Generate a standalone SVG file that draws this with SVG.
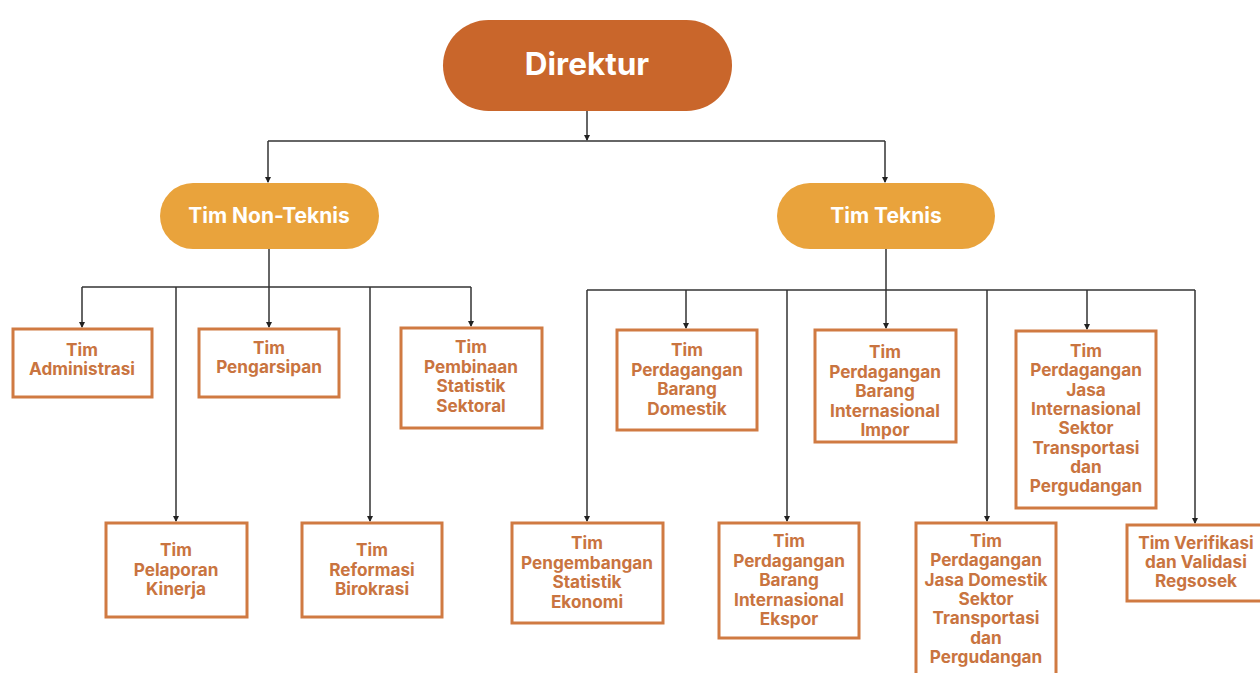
<svg xmlns="http://www.w3.org/2000/svg" width="1260" height="673" viewBox="0 0 1260 673">
<defs>
<marker id="ah" viewBox="0 0 6 6" refX="5" refY="3" markerWidth="4" markerHeight="4" orient="auto">
<path d="M0,0 L6,3 L0,6 z" fill="#222"/>
</marker>
<style>
.ln{fill:none;stroke:#333;stroke-width:1.5}
.box{fill:#fff;stroke:#d07a42;stroke-width:3}
.bt{font-family:Inter,"Liberation Sans",sans-serif;font-weight:700;font-size:17.2px;fill:#c97440;text-anchor:middle}
.pt{font-family:Inter,"Liberation Sans",sans-serif;font-weight:700;fill:#fff;text-anchor:middle}
</style>
</defs>
<rect width="1260" height="673" fill="#fff"/>
<g id="connectors">
<path class="ln" d="M587,111 V140" marker-end="url(#ah)"/>
<path class="ln" d="M268,141 H885"/>
<path class="ln" d="M268,141 V182" marker-end="url(#ah)"/>
<path class="ln" d="M885,141 V182" marker-end="url(#ah)"/>
<path class="ln" d="M269,249 V287"/>
<path class="ln" d="M82,287 H471"/>
<path class="ln" d="M82,287 V327" marker-end="url(#ah)"/>
<path class="ln" d="M176,287 V521" marker-end="url(#ah)"/>
<path class="ln" d="M269,287 V327" marker-end="url(#ah)"/>
<path class="ln" d="M370,287 V521" marker-end="url(#ah)"/>
<path class="ln" d="M471,287 V326" marker-end="url(#ah)"/>
<path class="ln" d="M886,249 V290"/>
<path class="ln" d="M587,290 H1195"/>
<path class="ln" d="M587,290 V521" marker-end="url(#ah)"/>
<path class="ln" d="M686,290 V328" marker-end="url(#ah)"/>
<path class="ln" d="M787,290 V521" marker-end="url(#ah)"/>
<path class="ln" d="M886,290 V328" marker-end="url(#ah)"/>
<path class="ln" d="M987,290 V521" marker-end="url(#ah)"/>
<path class="ln" d="M1087,290 V329" marker-end="url(#ah)"/>
<path class="ln" d="M1195,290 V523" marker-end="url(#ah)"/>
</g>
<g id="direktur">
<rect x="443" y="20" width="289" height="91" rx="45.5" fill="#c9662b"/>
<text class="pt" x="587" y="75" font-size="31.5">Direktur</text>
</g>
<g id="non-teknis">
<rect x="160" y="183" width="219" height="66" rx="33" fill="#e9a33c"/>
<text class="pt" x="269" y="222.5" font-size="21">Tim Non-Teknis</text>
</g>
<g id="teknis">
<rect x="777" y="183" width="218" height="66" rx="33" fill="#e9a33c"/>
<text class="pt" x="886" y="222.5" font-size="21">Tim Teknis</text>
</g>
<g id="administrasi">
<rect class="box" x="13" y="329" width="139" height="68"/>
<text class="bt"><tspan x="82" y="356">Tim</tspan><tspan x="82" y="375">Administrasi</tspan></text>
</g>
<g id="pengarsipan">
<rect class="box" x="199" y="329" width="140" height="68"/>
<text class="bt"><tspan x="269" y="354">Tim</tspan><tspan x="269" y="373">Pengarsipan</tspan></text>
</g>
<g id="pembinaan">
<rect class="box" x="401" y="328" width="141" height="100"/>
<text class="bt"><tspan x="471" y="353">Tim</tspan><tspan x="471" y="372.5">Pembinaan</tspan><tspan x="471" y="392">Statistik</tspan><tspan x="471" y="411.5">Sektoral</tspan></text>
</g>
<g id="pelaporan">
<rect class="box" x="106" y="523" width="141" height="94"/>
<text class="bt"><tspan x="176" y="556">Tim</tspan><tspan x="176" y="575.5">Pelaporan</tspan><tspan x="176" y="595">Kinerja</tspan></text>
</g>
<g id="reformasi">
<rect class="box" x="302" y="523" width="140" height="94"/>
<text class="bt"><tspan x="372" y="556">Tim</tspan><tspan x="372" y="575.5">Reformasi</tspan><tspan x="372" y="595">Birokrasi</tspan></text>
</g>
<g id="barang-domestik">
<rect class="box" x="617" y="330" width="140" height="100"/>
<text class="bt"><tspan x="687" y="356">Tim</tspan><tspan x="687" y="375.5">Perdagangan</tspan><tspan x="687" y="395">Barang</tspan><tspan x="687" y="414.5">Domestik</tspan></text>
</g>
<g id="barang-impor">
<rect class="box" x="815" y="330" width="141" height="112"/>
<text class="bt"><tspan x="885" y="358">Tim</tspan><tspan x="885" y="377.5">Perdagangan</tspan><tspan x="885" y="397">Barang</tspan><tspan x="885" y="416.5">Internasional</tspan><tspan x="885" y="436">Impor</tspan></text>
</g>
<g id="jasa-internasional">
<rect class="box" x="1016" y="331" width="140" height="177"/>
<text class="bt"><tspan x="1086" y="357">Tim</tspan><tspan x="1086" y="376.3">Perdagangan</tspan><tspan x="1086" y="395.6">Jasa</tspan><tspan x="1086" y="414.9">Internasional</tspan><tspan x="1086" y="434.2">Sektor</tspan><tspan x="1086" y="453.5">Transportasi</tspan><tspan x="1086" y="472.8">dan</tspan><tspan x="1086" y="492.1">Pergudangan</tspan></text>
</g>
<g id="pengembangan">
<rect class="box" x="512" y="523" width="151" height="100"/>
<text class="bt"><tspan x="587" y="549">Tim</tspan><tspan x="587" y="568.5">Pengembangan</tspan><tspan x="587" y="588">Statistik</tspan><tspan x="587" y="607.5">Ekonomi</tspan></text>
</g>
<g id="barang-ekspor">
<rect class="box" x="719" y="523" width="140" height="115"/>
<text class="bt"><tspan x="789" y="547">Tim</tspan><tspan x="789" y="566.5">Perdagangan</tspan><tspan x="789" y="586">Barang</tspan><tspan x="789" y="605.5">Internasional</tspan><tspan x="789" y="625">Ekspor</tspan></text>
</g>
<g id="jasa-domestik">
<rect class="box" x="916" y="523" width="140" height="170"/>
<text class="bt"><tspan x="986" y="547">Tim</tspan><tspan x="986" y="566.3">Perdagangan</tspan><tspan x="986" y="585.6">Jasa Domestik</tspan><tspan x="986" y="604.9">Sektor</tspan><tspan x="986" y="624.2">Transportasi</tspan><tspan x="986" y="643.5">dan</tspan><tspan x="986" y="662.8">Pergudangan</tspan></text>
</g>
<g id="verifikasi">
<rect class="box" x="1127" y="525" width="140" height="76"/>
<text class="bt"><tspan x="1196" y="549">Tim Verifikasi</tspan><tspan x="1196" y="568">dan Validasi</tspan><tspan x="1196" y="587">Regsosek</tspan></text>
</g>
</svg>
